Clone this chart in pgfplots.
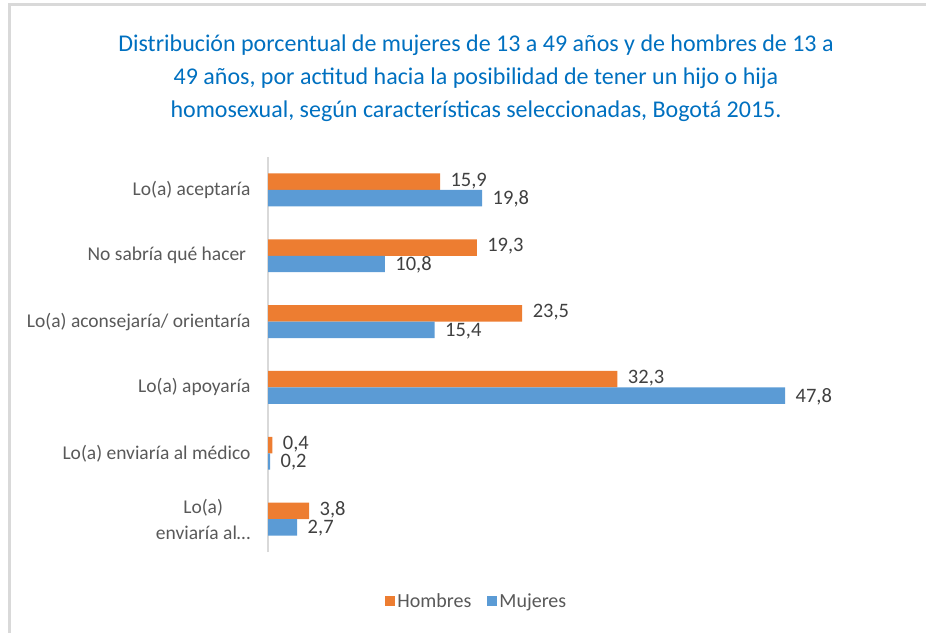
\documentclass[border=0pt]{standalone}
\usepackage{pgfplots}
\pgfplotsset{compat=1.18}
\usepackage{fontspec}
\setmainfont{Carlito}
\definecolor{cOrange}{HTML}{ED7D31}
\definecolor{cBlue}{HTML}{5B9BD5}
\definecolor{cTitle}{HTML}{0070C0}
\definecolor{cText}{HTML}{595959}
\definecolor{cLab}{HTML}{404040}
\definecolor{cFrame}{HTML}{D9D9D9}
\begin{document}
\begin{tikzpicture}[x=1pt,y=1pt]
\useasboundingbox (0,0) rectangle (926,632);
\draw[cFrame, line width=3pt] (9,-10) -- (9,627) -- (940,627);
\node[align=center, text=cTitle, font=\fontsize{24}{33}\selectfont] at (476,554)
  {Distribución porcentual de mujeres de 13 a 49 años y de hombres de 13 a\\
   49 años, por actitud hacia la posibilidad de tener un hijo o hija\\
   homosexual, según características seleccionadas, Bogotá 2015.};
\begin{axis}[
  at={(268pt,80pt)}, anchor=south west,
  scale only axis, width=595pt, height=395pt,
  xmin=0, xmax=55, ymin=-0.5, ymax=5.5,
  xbar, bar width=0.25,
  axis x line=none,
  axis y line*=left,
  y axis line style={draw=cFrame, line width=1.2pt, -},
  xtick=\empty,
  ytick={0,1,2,3,4,5},
  yticklabels={{Lo(a)\\enviaría al\ldots},{Lo(a) enviaría al médico},{Lo(a) apoyaría},{Lo(a) aconsejaría/ orientaría},{No sabría qué hacer\ },{Lo(a) aceptaría}},
  yticklabel style={align=center, text=cText, font=\fontsize{19.5}{26}\selectfont},
  major tick length=0pt,
  y tick label style={xshift=-14pt},
  clip=false,
  nodes near coords,
  every node near coord/.append style={text=cLab, font=\fontsize{20.5}{22}\selectfont, xshift=7pt, inner ysep=0pt},
  /pgf/number format/.cd, use comma, fixed, fixed zerofill, precision=1, assume math mode=true,
  /pgfplots/.cd,
  legend style={at={(0.351,-0.124)}, anchor=center, draw=none, legend columns=2,
    font=\fontsize{20}{22}\selectfont, text=cText,
    /tikz/every even column/.append style={column sep=14pt}},
  legend image code/.code={\fill[#1] (0pt,-5pt) rectangle (10pt,5pt);},
]
\addplot[draw=none, fill=cOrange, bar shift=0.125,
  every node near coord/.append style={yshift=1pt}] coordinates {
  (15.9,5) (19.3,4) (23.5,3) (32.3,2) (0.4,1) (3.8,0)};
\addplot[draw=none, fill=cBlue, bar shift=-0.125,
  every node near coord/.append style={yshift=-1pt}] coordinates {
  (19.8,5) (10.8,4) (15.4,3) (47.8,2) (0.2,1) (2.7,0)};
\legend{Hombres, Mujeres}
\end{axis}
\end{tikzpicture}
\end{document}
